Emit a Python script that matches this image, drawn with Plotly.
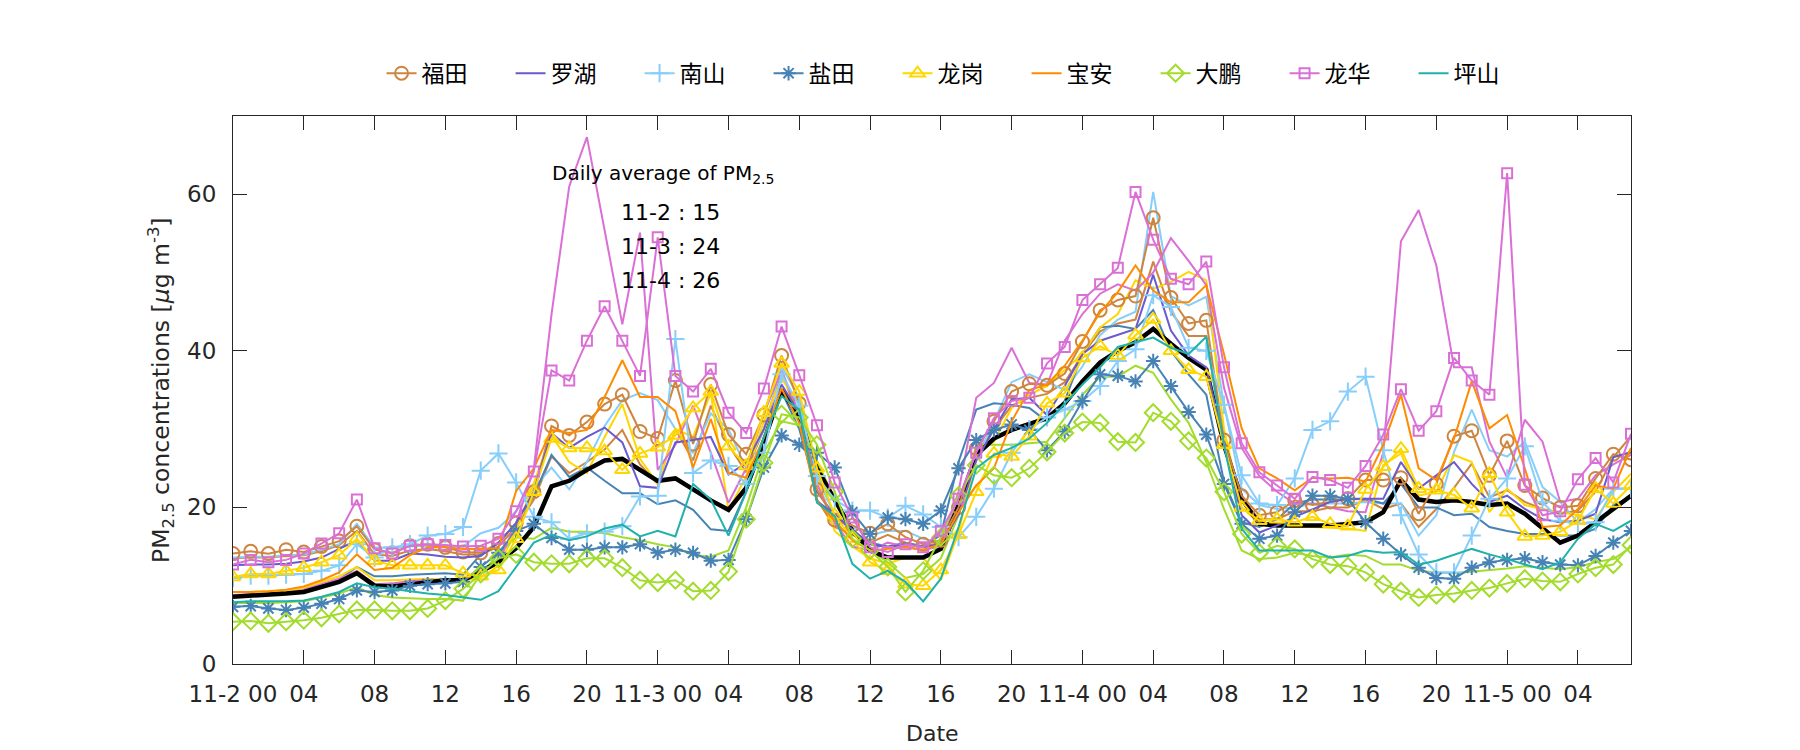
import plotly.graph_objects as go

hours = list(range(80))
tick_vals = list(range(0, 80, 4))
tick_text = ["11-2 00", "04", "08", "12", "16", "20",
             "11-3 00", "04", "08", "12", "16", "20",
             "11-4 00", "04", "08", "12", "16", "20",
             "11-5 00", "04"]

# ---- marked / legend series ----
futian = [14.1, 14.4, 14.1, 14.6, 14.3, 15.0, 15.7, 17.6,
          14.6, 14.2, 15.1, 15.3, 14.9, 14.3, 14.2, 15.4,
          18.0, 22.0, 30.4, 29.2, 30.9, 33.2, 34.4, 29.7,
          28.8, 36.2, 28.1, 35.7, 29.3, 26.8, 31.8, 39.4,
          33.3, 22.3, 18.4, 17.7, 16.7, 17.9, 16.2, 15.3,
          15.8, 20.0, 27.5, 31.0, 34.8, 35.8, 35.6, 37.1,
          41.2, 45.2, 46.5, 47.0, 57.0, 46.8, 43.5, 43.9,
          28.6, 21.5, 19.0, 19.4, 20.9, 20.3, 20.7, 21.1,
          23.5, 23.5, 23.8, 19.2, 23.0, 29.1, 29.8, 24.1,
          28.5, 22.8, 21.2, 20.0, 20.2, 23.7, 26.8, 26.1]

luohu = [12.6, 12.7, 12.7, 12.8, 13.1, 13.6, 14.7, 15.8,
         13.2, 13.2, 14.1, 14.0, 13.7, 13.6, 13.8, 15.5,
         18.0, 22.0, 29.5, 27.6, 29.0, 30.2, 28.3, 22.7,
         22.5, 28.3, 28.6, 29.0, 24.2, 25.7, 30.0, 35.7,
         32.0, 20.8, 19.1, 17.2, 15.3, 14.9, 15.3, 14.9,
         15.3, 19.1, 26.0, 30.0, 33.8, 34.0, 31.8, 35.5,
         39.6, 41.3, 42.1, 42.8, 49.7, 42.6, 39.4, 37.9,
         28.4, 19.0, 16.8, 17.7, 18.8, 19.8, 20.7, 21.1,
         21.1, 21.1, 25.8, 22.4, 24.1, 25.8, 23.0, 20.7,
         21.5, 19.8, 18.5, 18.1, 18.3, 19.2, 26.4, 27.1]

nanshan = [11.0, 11.3, 11.3, 11.4, 11.5, 11.9, 12.6, 15.3,
           13.6, 14.9, 15.3, 16.4, 16.6, 17.5, 24.7, 26.9,
           23.2, 18.8, 18.1, 16.0, 16.7, 16.9, 17.6, 21.4,
           21.5, 41.5, 24.4, 26.0, 25.3, 23.0, 27.0, 37.0,
           33.0, 24.0, 21.0, 19.6, 19.6, 18.7, 20.2, 19.1,
           17.5, 16.2, 18.8, 22.4, 27.0, 30.0, 31.5, 32.5,
           33.6, 35.5, 38.7, 40.2, 47.1, 45.6, 40.4, 40.0,
           33.1, 24.1, 20.5, 20.3, 23.7, 29.9, 31.0, 34.8,
           36.7, 27.3, 19.0, 14.0, 11.7, 11.7, 16.4, 21.1,
           23.7, 27.8, 20.7, 18.3, 17.9, 18.1, 22.4, 22.4]

yantian = [7.3, 7.4, 7.1, 6.9, 7.2, 7.7, 8.3, 9.4,
           9.2, 9.4, 10.0, 10.2, 10.3, 10.5, 12.4, 14.2,
           17.0, 17.9, 16.1, 14.6, 14.6, 14.9, 14.9, 15.3,
           14.2, 14.6, 14.2, 13.2, 13.3, 18.5, 25.1, 29.2,
           28.0, 27.0, 25.1, 19.4, 16.6, 18.7, 18.5, 17.9,
           19.6, 25.0, 28.6, 29.9, 30.6, 29.9, 27.3, 29.7,
           33.6, 37.0, 36.8, 36.1, 38.7, 35.5, 32.2, 29.3,
           23.0, 17.9, 16.0, 16.4, 19.4, 21.5, 21.5, 21.1,
           18.1, 16.0, 14.0, 12.3, 11.0, 10.9, 12.3, 13.0,
           13.3, 13.5, 13.0, 12.7, 12.6, 13.8, 15.5, 17.0]

longgang = [11.1, 11.5, 11.5, 11.9, 12.3, 13.0, 13.9, 16.0,
            13.2, 12.6, 12.6, 12.6, 12.6, 11.6, 11.2, 12.0,
            16.0, 22.0, 28.8, 27.6, 27.6, 27.2, 24.8, 26.9,
            27.7, 29.2, 32.7, 34.8, 27.8, 25.3, 32.1, 38.4,
            34.8, 25.0, 19.0, 16.0, 13.0, 11.9, 10.2, 10.0,
            12.0, 16.5, 22.0, 26.9, 26.5, 29.1, 33.3, 34.6,
            39.1, 40.6, 39.4, 42.0, 44.0, 40.0, 37.6, 36.7,
            28.0, 20.0, 18.3, 18.5, 18.1, 18.8, 17.9, 17.6,
            22.3, 25.2, 27.5, 22.4, 22.2, 21.6, 19.9, 24.3,
            19.4, 16.3, 16.4, 16.9, 18.3, 22.4, 20.5, 22.8]

baoan = [9.2, 9.2, 9.3, 9.5, 9.9, 10.7, 11.7, 14.0,
         12.0, 12.3, 13.9, 14.9, 14.9, 14.7, 14.7, 14.8,
         22.1, 25.0, 29.9, 29.5, 29.9, 34.1, 38.8, 34.1,
         34.1, 32.3, 25.1, 31.3, 24.4, 23.8, 28.9, 35.2,
         30.8, 20.8, 18.3, 15.8, 14.5, 14.7, 14.9, 14.6,
         15.3, 19.4, 22.8, 25.0, 31.0, 35.0, 35.7, 38.1,
         41.3, 44.9, 47.5, 50.9, 47.7, 46.2, 46.2, 48.4,
         39.6, 30.1, 25.0, 23.7, 22.2, 23.8, 23.7, 23.8,
         23.3, 28.0, 34.4, 25.0, 23.5, 28.8, 36.1, 30.1,
         31.8, 25.0, 17.5, 17.7, 19.8, 22.8, 22.4, 27.6]

dapeng = [5.4, 5.5, 5.2, 5.4, 5.6, 5.9, 6.4, 6.9,
          6.9, 6.8, 6.8, 7.1, 8.1, 9.6, 11.5, 13.5,
          14.0, 13.0, 12.8, 12.8, 13.5, 13.5, 12.3, 10.7,
          10.4, 10.7, 9.3, 9.4, 11.8, 18.5, 25.7, 31.9,
          31.5, 28.0, 22.0, 16.0, 14.5, 12.4, 9.2, 11.9,
          16.2, 21.5, 25.4, 24.1, 23.8, 25.0, 27.1, 29.5,
          30.9, 30.8, 28.4, 28.3, 32.1, 31.0, 28.5, 26.3,
          22.0, 16.6, 14.2, 15.1, 14.7, 13.4, 12.7, 12.5,
          11.7, 10.2, 9.3, 8.5, 8.8, 9.0, 9.4, 9.7,
          10.3, 10.9, 10.6, 10.5, 11.5, 12.3, 12.7, 15.2]

longhua = [12.7, 13.3, 13.0, 13.3, 14.1, 15.4, 16.7, 21.0,
           14.8, 14.1, 15.1, 15.3, 15.2, 15.0, 15.1, 16.0,
           19.5, 24.6, 37.5, 36.2, 41.3, 45.7, 41.3, 36.8,
           54.5, 36.8, 34.8, 37.7, 32.1, 29.5, 35.2, 43.1,
           36.9, 30.5, 23.2, 18.7, 14.9, 14.3, 15.3, 14.9,
           17.0, 21.1, 27.0, 31.4, 33.6, 34.0, 38.4, 40.5,
           46.5, 48.5, 50.6, 60.3, 54.2, 49.2, 48.5, 51.4,
           37.9, 28.2, 24.5, 22.8, 21.1, 23.9, 23.5, 22.5,
           25.3, 29.3, 35.1, 29.8, 32.3, 39.1, 36.2, 34.4,
           62.7, 22.9, 19.0, 19.5, 23.6, 26.3, 23.2, 29.4]

pingshan = [7.9, 8.0, 8.0, 8.0, 8.1, 8.6, 9.2, 10.3,
            9.8, 9.6, 9.3, 9.0, 8.8, 8.5, 8.2, 9.3,
            12.4, 15.5, 16.5, 15.8, 16.3, 17.3, 17.8, 16.3,
            17.0, 16.3, 23.0, 21.0, 16.4, 22.0, 29.0, 34.2,
            32.5, 20.6, 18.9, 12.8, 10.9, 11.9, 10.5, 8.0,
            10.9, 17.5, 25.0, 26.7, 27.6, 28.8, 30.8, 33.3,
            35.7, 37.9, 40.5, 41.1, 41.7, 40.4, 39.6, 41.8,
            28.0, 17.3, 14.5, 14.5, 14.5, 14.5, 13.6, 13.8,
            14.5, 14.2, 14.3, 12.7, 13.2, 14.0, 14.7, 14.0,
            13.4, 12.7, 12.1, 13.0, 16.0, 17.9, 17.0, 18.3]

# ---- second stations (no markers, not in legend) ----
futian_b = [13.5, 13.6, 13.6, 13.8, 13.9, 14.4, 15.2, 17.0,
            14.0, 13.8, 14.5, 14.7, 14.4, 14.0, 14.0, 15.0,
            17.5, 21.0, 26.5, 24.4, 25.8, 27.4, 29.9, 25.5,
            23.0, 30.0, 26.0, 33.0, 28.0, 24.5, 30.0, 37.5,
            31.0, 21.0, 17.5, 16.5, 15.5, 16.5, 15.5, 15.0,
            15.5, 19.5, 27.0, 30.0, 33.0, 34.0, 34.5, 36.0,
            39.5, 42.5, 43.5, 44.0, 51.4, 45.0, 41.9, 41.9,
            28.0, 21.0, 18.5, 18.5, 19.5, 19.5, 20.0, 20.0,
            21.0, 19.8, 20.5, 17.5, 19.8, 22.5, 25.6, 21.3,
            22.2, 20.7, 19.8, 19.2, 19.6, 22.0, 26.4, 29.1]

nanshan_b = [13.6, 13.7, 13.7, 13.9, 14.0, 14.6, 15.3, 17.9,
             14.9, 14.8, 15.0, 15.1, 15.0, 15.0, 16.7, 17.4,
             19.5, 22.5, 25.1, 22.3, 25.8, 30.4, 33.7, 34.6,
             33.7, 30.0, 27.0, 32.0, 30.0, 25.0, 30.0, 38.0,
             34.0, 24.0, 19.0, 17.5, 16.5, 17.0, 17.0, 16.0,
             15.5, 19.0, 26.0, 31.0, 36.0, 37.0, 36.0, 35.0,
             38.0, 42.0, 44.0, 45.0, 60.3, 47.0, 45.8, 46.9,
             33.1, 22.4, 20.3, 19.8, 20.0, 20.5, 20.5, 20.5,
             20.7, 20.5, 20.5, 16.4, 19.0, 27.1, 32.5, 27.3,
             26.5, 28.4, 22.6, 20.7, 18.1, 19.8, 22.4, 22.4]

yantian_b = [8.8, 8.8, 8.9, 9.0, 9.3, 10.0, 10.8, 12.4,
             11.2, 11.2, 11.4, 11.5, 11.6, 11.4, 14.0, 15.5,
             18.0, 21.5, 26.7, 23.9, 25.1, 23.4, 21.8, 21.8,
             20.4, 20.9, 19.7, 17.2, 17.0, 22.0, 28.0, 34.8,
             30.0, 22.0, 19.0, 17.0, 15.5, 15.0, 15.5, 15.0,
             16.5, 25.8, 32.5, 33.3, 33.1, 32.7, 31.0, 33.6,
             39.6, 43.0, 43.2, 42.8, 45.2, 40.0, 37.0, 34.4,
             23.3, 18.1, 17.5, 18.5, 20.5, 21.0, 21.0, 21.0,
             21.1, 20.5, 23.0, 20.0, 20.0, 19.0, 19.2, 17.5,
             17.0, 16.6, 16.6, 16.4, 16.4, 17.3, 20.3, 21.3]

longgang_b = [9.2, 9.2, 9.3, 9.4, 9.7, 10.4, 11.2, 12.4,
              10.7, 10.7, 10.8, 10.9, 10.8, 10.7, 11.0, 12.5,
              17.0, 23.0, 29.2, 25.8, 24.4, 29.0, 33.2, 26.2,
              23.0, 30.0, 29.0, 34.6, 19.6, 24.0, 31.0, 36.5,
              33.0, 24.0, 17.0, 15.0, 13.5, 12.8, 13.6, 13.6,
              10.7, 16.8, 26.7, 28.4, 32.7, 34.4, 35.5, 37.6,
              39.6, 43.0, 44.7, 49.0, 47.9, 48.8, 50.1, 49.0,
              30.0, 20.0, 18.0, 17.8, 17.5, 17.5, 17.4, 17.3,
              17.0, 25.4, 26.9, 21.5, 22.0, 26.7, 25.8, 19.4,
              22.4, 20.3, 19.8, 19.4, 19.0, 18.5, 22.0, 24.3]

dapeng_b = [7.8, 7.8, 7.8, 7.9, 8.0, 8.5, 9.0, 9.8,
            8.8, 8.5, 8.4, 8.3, 8.3, 8.1, 11.5, 14.0,
            16.2, 16.0, 17.4, 16.9, 16.9, 16.7, 16.2, 15.8,
            15.3, 14.9, 13.9, 13.7, 14.5, 20.0, 27.0, 31.0,
            30.5, 26.0, 21.0, 17.0, 14.5, 13.0, 11.0, 11.5,
            13.5, 19.0, 28.0, 28.0, 28.0, 28.2, 28.4, 31.4,
            34.4, 36.7, 36.7, 38.1, 37.2, 33.8, 30.8, 25.8,
            19.8, 14.5, 13.4, 13.6, 14.2, 13.8, 13.6, 14.0,
            13.8, 12.7, 12.7, 11.9, 11.7, 11.6, 11.8, 12.0,
            12.2, 12.5, 12.3, 12.1, 12.4, 13.0, 13.4, 14.9]

longhua_b = [8.8, 8.9, 9.0, 9.1, 9.5, 10.2, 10.9, 11.9,
             10.2, 10.3, 10.6, 10.7, 10.7, 10.6, 11.5, 13.0,
             18.0, 25.0, 44.7, 61.0, 67.3, 55.4, 43.4, 55.1,
             24.8, 28.0, 33.0, 27.0, 20.6, 25.0, 32.0, 37.5,
             32.0, 23.0, 18.0, 15.0, 14.5, 15.5, 15.0, 14.5,
             15.1, 22.0, 34.0, 35.9, 40.4, 35.9, 35.7, 41.3,
             44.7, 47.3, 48.5, 47.7, 50.0, 54.4, 51.5, 48.4,
             35.3, 27.6, 24.0, 22.0, 20.5, 20.5, 20.0, 19.5,
             19.4, 27.0, 54.0, 58.0, 50.9, 37.9, 37.9, 28.4,
             23.8, 31.2, 28.4, 20.7, 21.1, 24.1, 25.5, 26.7]

average = [8.6, 8.7, 8.8, 9.0, 9.2, 9.8, 10.5, 11.6,
           10.0, 9.9, 10.2, 10.5, 10.7, 10.7, 11.8, 13.0,
           14.8, 17.5, 22.7, 23.4, 24.8, 26.0, 26.2, 24.8,
           23.4, 23.7, 22.3, 20.9, 19.7, 22.5, 28.5, 35.0,
           31.5, 25.0, 21.0, 17.0, 14.5, 13.6, 13.6, 13.6,
           14.7, 20.3, 26.7, 28.8, 29.9, 30.6, 31.4, 33.3,
           36.1, 38.5, 40.0, 41.1, 42.8, 40.9, 39.1, 37.6,
           28.0, 21.1, 17.9, 17.7, 17.7, 17.7, 17.7, 17.9,
           18.1, 19.4, 23.5, 21.0, 20.7, 20.9, 20.7, 20.3,
           20.5, 19.2, 17.3, 15.5, 16.4, 18.1, 19.8, 21.5]

daily_avg_labels = ["11-2 : 15", "11-3 : 24", "11-4 : 26"]

C_FUTIAN = "#CD853F"
C_LUOHU = "#6A5ACD"
C_NANSHAN = "#87CEFA"
C_YANTIAN = "#4682B4"
C_LONGGANG = "#FFD700"
C_BAOAN = "#FF8C00"
C_DAPENG = "#A2DC2C"
C_LONGHUA = "#DA70D6"
C_PINGSHAN = "#20B2AA"

FONT = "DejaVu Sans, Noto Sans CJK SC, sans-serif"
AX = "#262626"

for arr in [futian, luohu, nanshan, yantian, longgang, baoan, dapeng, longhua,
            pingshan, futian_b, nanshan_b, yantian_b, longgang_b, dapeng_b,
            longhua_b, average]:
    assert len(arr) == 80, len(arr)

fig = go.Figure()

# unmarked second-station lines
for data, col in [(futian_b, C_FUTIAN), (nanshan_b, C_NANSHAN), (yantian_b, C_YANTIAN),
                  (longgang_b, C_LONGGANG), (dapeng_b, C_DAPENG), (longhua_b, C_LONGHUA)]:
    fig.add_trace(go.Scatter(x=hours, y=data, mode="lines", showlegend=False,
                             line=dict(color=col, width=2), hoverinfo="skip"))

# average
fig.add_trace(go.Scatter(x=hours, y=average, mode="lines", showlegend=False,
                         line=dict(color="black", width=4.5), hoverinfo="skip"))

series = [
    ("福田", futian, C_FUTIAN, "circle-open", 13),
    ("罗湖", luohu, C_LUOHU, None, 0),
    ("南山", nanshan, C_NANSHAN, "cross-thin-open", 13),
    ("盐田", yantian, C_YANTIAN, "asterisk-open", 12),
    ("龙岗", longgang, C_LONGGANG, "triangle-up-open", 13),
    ("宝安", baoan, C_BAOAN, None, 0),
    ("大鹏", dapeng, C_DAPENG, "diamond-open", 13),
    ("龙华", longhua, C_LONGHUA, "square-open", 10),
    ("坪山", pingshan, C_PINGSHAN, None, 0),
]
for name, data, col, sym, size in series:
    if sym:
        fig.add_trace(go.Scatter(x=hours, y=data, mode="lines+markers", name=name,
                                 line=dict(color=col, width=2),
                                 marker=dict(symbol=sym, size=size, color=col,
                                             line=dict(color=col, width=2))))
    else:
        fig.add_trace(go.Scatter(x=hours, y=data, mode="lines", name=name,
                                 line=dict(color=col, width=2)))

# annotations
fig.add_annotation(x=17.9, y=62.6, xref="x", yref="y", text="Daily average of PM<sub>2.5</sub>",
                   showarrow=False, xanchor="left", yanchor="middle",
                   font=dict(family=FONT, size=20, color="black"))
for i, lab in enumerate(daily_avg_labels):
    fig.add_annotation(x=21.8, y=57.7 - 4.35 * i, xref="x", yref="y", text=lab,
                       showarrow=False, xanchor="left", yanchor="middle",
                       font=dict(family=FONT, size=22, color="black"))

fig.add_annotation(x=-0.0515, y=0.5, xref="paper", yref="paper",
                   text="PM<sub>2.5</sub> concentrations [<i>μ</i>g m<sup>-3</sup>]",
                   textangle=-90, showarrow=False, xanchor="center", yanchor="middle",
                   font=dict(family=FONT, size=23.5, color=AX))
fig.add_annotation(x=0.5, y=-0.126, xref="paper", yref="paper", text="Date",
                   showarrow=False, xanchor="center", yanchor="middle",
                   font=dict(family=FONT, size=22, color=AX))

axis_common = dict(showline=True, linecolor=AX, linewidth=1, mirror="ticks",
                   ticks="inside", ticklen=14, tickwidth=1, tickcolor=AX,
                   showgrid=False, zeroline=False,
                   tickfont=dict(family=FONT, size=23, color=AX))

fig.update_xaxes(range=[0, 79], tickmode="array", tickvals=tick_vals, ticktext=tick_text,
                 ticklabelstandoff=9, **axis_common)
fig.update_yaxes(range=[0, 70], tickmode="array", tickvals=[0, 20, 40, 60],
                 ticklabelstandoff=11, **axis_common)

# page body has an 8px margin, so offset the figure margins to keep the plot box in place
fig.update_layout(
    width=1800, height=750,
    margin=dict(l=225, r=177, t=108, b=94, autoexpand=False),
    paper_bgcolor="white", plot_bgcolor="white",
    font=dict(family=FONT, size=22, color=AX),
    showlegend=True,
    legend=dict(orientation="h", x=0.5215, xanchor="center", y=1.078, yanchor="middle",
                entrywidth=84, entrywidthmode="pixels",
                font=dict(family=FONT, size=23, color="black"),
                bgcolor="rgba(0,0,0,0)"),
)

fig.write_html("out.html")
